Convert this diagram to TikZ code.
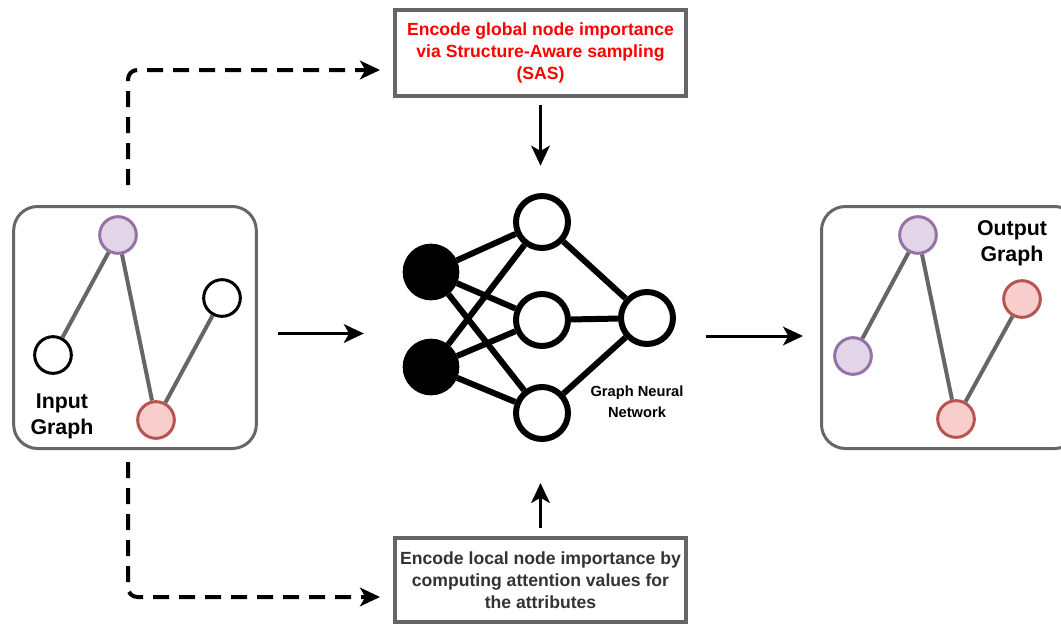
\documentclass[tikz,border=0pt]{standalone}
\usepackage{fontspec}
\setmainfont{Liberation Sans}
\usepackage{xcolor}
\usepackage{tikz}
\usetikzlibrary{positioning}
\usetikzlibrary{arrows.meta,shapes}
\usetikzlibrary{calc}
\definecolor{boxgray}{HTML}{666666}
\definecolor{txtgray}{HTML}{333333}
\definecolor{purpfill}{HTML}{E1D5E7}
\definecolor{purpdraw}{HTML}{9673A6}
\definecolor{redfill}{HTML}{F8CECC}
\definecolor{reddraw}{HTML}{B85450}
\tikzstyle{gvertex}=[circle,draw=black,fill=white,line width=2.25pt,minimum size=27.5pt,inner sep=0pt]
\tikzstyle{purpvertex}=[gvertex,draw=purpdraw,fill=purpfill]
\tikzstyle{redvertex}=[gvertex,draw=reddraw,fill=redfill]
\tikzstyle{nnvertex}=[circle,draw=black,fill=white,line width=4.5pt,minimum size=39pt,inner sep=0pt]
\tikzstyle{invertex}=[nnvertex,fill=black,minimum size=38pt]
\tikzstyle{gedge} = [draw,line width=3pt,boxgray]
\tikzstyle{nnedge} = [draw,line width=4.5pt,black]
\tikzstyle{flow} = [draw,line width=2.25pt,-{Stealth[length=15pt,width=14pt,inset=4pt]}]
\tikzstyle{dashflow} = [draw,line width=3pt,dash pattern=on 12pt off 7.5pt,rounded corners=7pt,-{Stealth[length=15pt,width=14pt,inset=4pt]}]
\tikzstyle{glabel} = [align=center,font=\fontsize{16}{19.5}\selectfont\bfseries]
\tikzset{nd/.style={rectangle,draw=boxgray,line width=3pt,fill=white,align=center,minimum width=218pt,font=\fontsize{13.2}{16.5}\selectfont\bfseries}}
\tikzset{grbox/.style={rectangle,rounded corners=18pt,draw=boxgray,line width=2.25pt,minimum width=182pt,minimum height=181.5pt}}

\begin{document}
\begin{tikzpicture}[x=0.75pt,y=-0.75pt]
	\useasboundingbox (0,0) rectangle (1061,626);

%boxes
	\node[grbox] (inG) at (135,327.5) {};
	\node[grbox,minimum width=192.75pt] (outG) at (950,327.5) {};
	\node[nd,minimum height=64.5pt,text=red] (sas) at (540.5,53) {Encode global node importance\\via Structure-Aware sampling\\(SAS)};
	\node[nd,minimum height=63pt,text=txtgray] (att) at (540.5,580) {Encode local node importance by\\computing attention values for\\the attributes};

%input graph
	\foreach \pos/\name/\style in {{(118,235)/ia/purpvertex}, {(53,355)/ib/gvertex}, {(222,298)/ic/gvertex}, {(156,420)/id/redvertex}}
		\node[\style] (\name) at \pos {};
	\foreach \source/\dest in {ia/ib, ia/id, id/ic}
		\path[gedge] (\source) -- (\dest);
	\node[glabel] (inlbl) at (62,416) {Input\\Graph};

%output graph
	\foreach \pos/\name/\style in {{(918,235)/oa/purpvertex}, {(853,356)/ob/purpvertex}, {(1022,299)/oc/redvertex}, {(956,419)/od/redvertex}}
		\node[\style] (\name) at \pos {};
	\foreach \source/\dest in {oa/ob, oa/od, od/oc}
		\path[gedge] (\source) -- (\dest);
	\node[glabel] (outlbl) at (1012,243) {Output\\Graph};

%network
	\foreach \pos/\name in {{(431,272)/x1}, {(431,367)/x2}}
		\node[invertex] (\name) at \pos {};
	\foreach \pos/\name in {{(542,222)/h1}, {(542,320)/h2}, {(542,413)/h3}, {(647,318)/y}}
		\node[nnvertex] (\name) at \pos {};
	\foreach \source in {x1,x2}
		\foreach \dest in {h1,h2,h3}
			\path[nnedge] (\source) -- (\dest);
	\foreach \source in {h1,h2,h3}
		\path[nnedge] (\source) -- (y);
	\node[align=center,font=\fontsize{11}{15.75}\selectfont\bfseries] (nnlbl) at (637,402) {Graph Neural\\Network};

%arrows
	\path[flow] ([yshift=-5pt]sas.south) -- ++(0,61);
	\path[flow] ([yshift=6pt]att.north) -- ++(0,-45);
	\path[flow] ([shift={(20,6)}]inG.east) -- ++(86,0);
	\path[flow] ([shift={(30,18)}]y.east) -- ++(97,0);

	\coordinate (gs) at (128,185);
	\coordinate (ge) at (380,70);
	\coordinate (ls) at (128,462);
	\coordinate (le) at (380,597);
	\path[dashflow] (gs) |- (ge);
	\path[dashflow] (ls) |- (le);
\end{tikzpicture}
\end{document}
